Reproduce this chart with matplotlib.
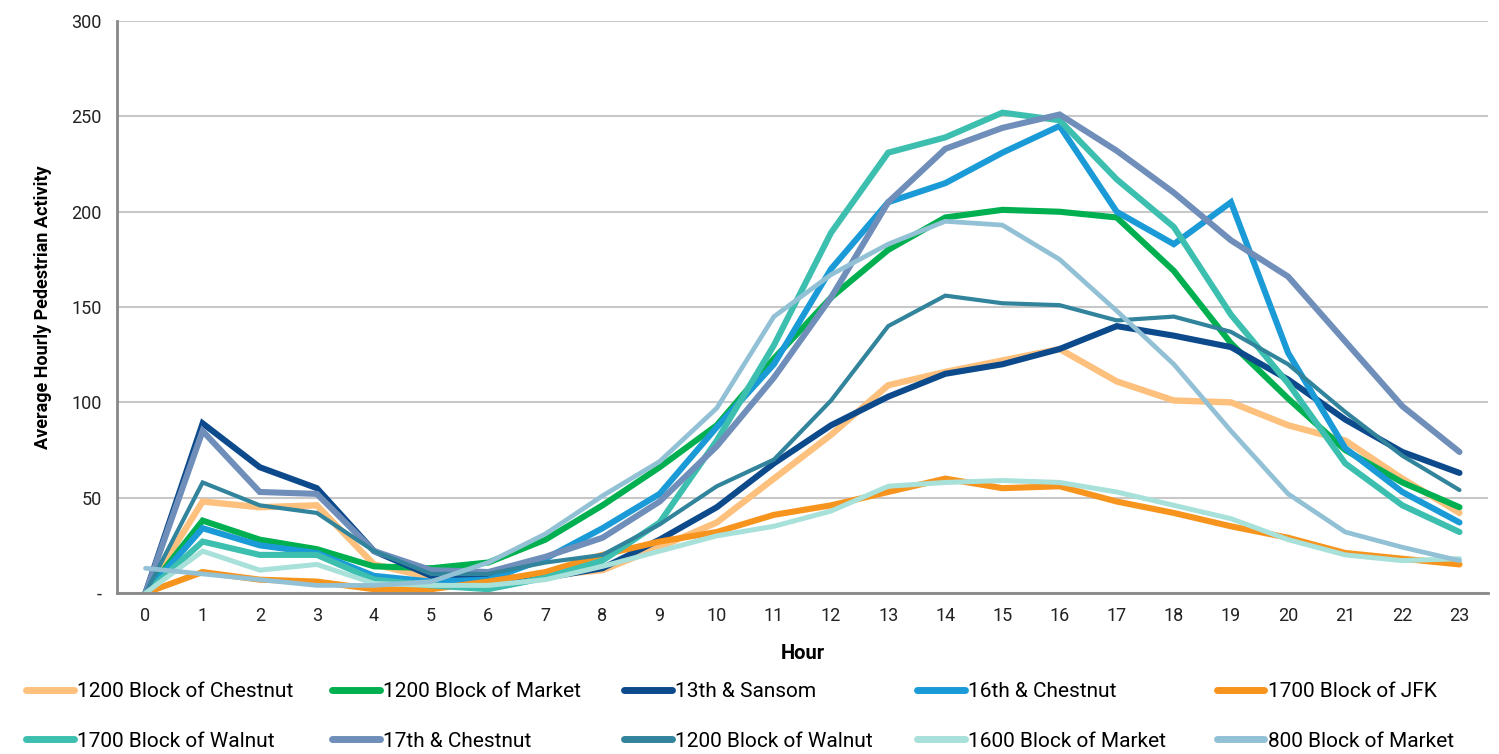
import matplotlib
matplotlib.use("Agg")
import matplotlib.pyplot as plt

plt.rcParams['font.family'] = ['Roboto', 'DejaVu Sans']

# Data
hours = list(range(24))
series_names = [
    '1200 Block of Chestnut', '1200 Block of Market', '13th & Sansom',
    '16th & Chestnut', '1700 Block of JFK', '1700 Block of Walnut',
    '17th & Chestnut', '1200 Block of Walnut', '1600 Block of Market',
    '800 Block of Market',
]
chestnut_1200 = [0, 48, 45, 46, 15, 8, 7, 9, 12, 24, 37, 60, 83, 109, 116, 122, 128, 111, 101, 100, 88, 80, 60, 42]
market_1200 = [0, 38, 28, 23, 14, 13, 16, 28, 46, 66, 88, 123, 155, 180, 197, 201, 200, 197, 169, 131, 102, 75, 58, 45]
sansom_13th = [0, 89, 66, 55, 22, 9, 8, 8, 13, 28, 45, 68, 88, 103, 115, 120, 128, 140, 135, 129, 112, 91, 74, 63]
chestnut_16th = [0, 34, 25, 21, 9, 6, 7, 18, 34, 52, 87, 120, 170, 205, 215, 231, 245, 200, 183, 205, 126, 76, 53, 37]
jfk_1700 = [0, 11, 7, 6, 2, 2, 6, 11, 20, 27, 32, 41, 46, 53, 60, 55, 56, 48, 42, 35, 29, 21, 18, 15]
walnut_1700 = [0, 27, 20, 20, 7, 4, 2, 8, 17, 37, 80, 130, 189, 231, 239, 252, 248, 217, 192, 146, 110, 68, 46, 32]
chestnut_17th = [0, 85, 53, 52, 22, 12, 11, 19, 29, 48, 77, 113, 155, 205, 233, 244, 251, 232, 210, 185, 166, 132, 98, 74]
walnut_1200 = [0, 58, 46, 42, 22, 10, 10, 16, 20, 36, 56, 70, 101, 140, 156, 152, 151, 143, 145, 137, 120, 95, 72, 54]
market_1600 = [0, 22, 12, 15, 5, 4, 4, 7, 14, 22, 30, 35, 43, 56, 58, 59, 58, 53, 46, 39, 28, 20, 17, 18]
market_800 = [13, 10, 7, 4, 4, 6, 16, 31, 51, 69, 97, 145, 167, 183, 195, 193, 175, 148, 120, 85, 52, 32, 24, 17]

series_values = [chestnut_1200, market_1200, sansom_13th, chestnut_16th, jfk_1700,
                 walnut_1700, chestnut_17th, walnut_1200, market_1600, market_800]
colors = ['#FDC07D', '#00B050', '#0D4A8C', '#1A9AD6', '#F7941D',
          '#3DBFB0', '#6F8FBA', '#31849B', '#A8E0DA', '#92C1D6']
widths = [4.6, 4.4, 4.4, 4.4, 4.4, 4.4, 4.4, 3.0, 3.6, 3.4]

fig = plt.figure(figsize=(14.99, 7.54), dpi=100)
ax = fig.add_axes([0.078, 0.2135, 0.9147, 0.7585])

handles = []
for name, vals, c, w in zip(series_names, series_values, colors, widths):
    line, = ax.plot(hours, vals, color=c, lw=w, label=name,
                    solid_capstyle='round', solid_joinstyle='miter')
    handles.append(line)

ax.set_xlim(-0.5, 23.5)
ax.set_ylim(0, 300)
ax.set_xticks(hours)
ax.set_yticks([0, 50, 100, 150, 200, 250, 300])
ax.set_yticklabels(['-', '50', '100', '150', '200', '250', '300'])
ax.tick_params(length=0, labelsize=13, colors='#222222')
ax.tick_params(axis='y', pad=11)
ax.tick_params(axis='x', pad=10)

ax.grid(axis='y', color='#C8C8C8', lw=1.5)
ax.set_axisbelow(True)
for s in ['top', 'right']:
    ax.spines[s].set_visible(False)
for s in ['left', 'bottom']:
    ax.spines[s].set_color('#888888')
    ax.spines[s].set_linewidth(2)

ax.set_xlabel('Hour', fontsize=14.5, fontweight='bold', labelpad=14)
ax.set_ylabel('Average Hourly Pedestrian Activity', fontsize=13,
              fontweight='bold', labelpad=14)

# Legend: 5 columns, 2 rows, placed column by column
legend_font = {'size': 15}
col_x = [0.012, 0.216, 0.411, 0.606, 0.806]
for j in range(5):
    leg = fig.legend([handles[j], handles[j + 5]],
                     [series_names[j], series_names[j + 5]],
                     loc='upper left', bbox_to_anchor=(col_x[j], 0.106),
                     frameon=False, prop=legend_font, handlelength=2.3,
                     handletextpad=0.15, labelspacing=1.45, borderaxespad=0)
    for lh in leg.get_lines():
        lh.set_linewidth(5)

fig.savefig('out.png', dpi=100)
